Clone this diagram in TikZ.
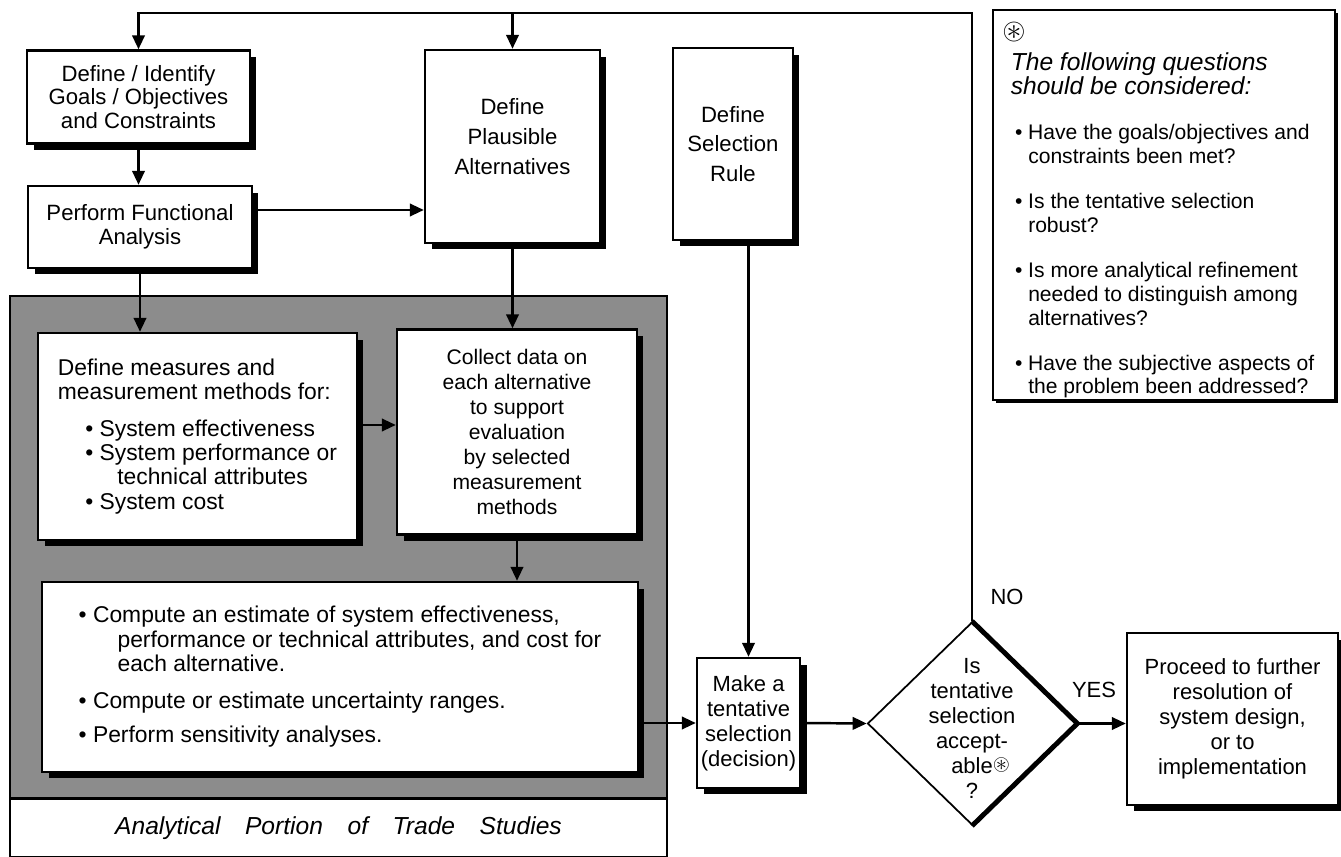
\documentclass[tikz,border=0pt]{standalone}
\usepackage{amssymb}
\usepackage{fontspec}
\setmainfont{Liberation Sans}
\usetikzlibrary{arrows.meta, positioning, shapes.geometric, shadows}
\tikzset{
    process box/.style={rectangle, draw=black, fill=white, line width=1.4pt, align=center, inner sep=2pt,
        font=\fontsize{12.6}{13.6}\selectfont,
        drop shadow={shadow xshift=1.3mm, shadow yshift=-1.3mm, fill=black, opacity=1}},
    tall text/.style={font=\fontsize{12.6}{17}\selectfont},
    wide text/.style={font=\fontsize{12.5}{14.2}\selectfont},
    list text/.style={font=\fontsize{13}{13.8}\selectfont},
    region box/.style={rectangle, draw=black, fill=black!45, line width=0.8pt, minimum width=13.14cm, minimum height=10.04cm},
    region label/.style={rectangle, draw=black, fill=white, line width=0.8pt, minimum width=13.14cm, minimum height=1.14cm,
        font=\fontsize{14}{16}\selectfont\itshape},
    note box/.style={rectangle, draw=black, fill=white, line width=1.1pt, minimum width=6.84cm, minimum height=7.8cm,
        drop shadow={shadow xshift=0.6mm, shadow yshift=-0.6mm, fill=black, opacity=1}},
    note text/.style={align=left, inner sep=0pt, anchor=north west, font=\fontsize{12}{13.6}\selectfont},
    decision/.style={diamond, draw=black, fill=white, line width=1pt, inner sep=0pt},
    answer label/.style={font=\fontsize{12.5}{14}\selectfont},
    flow/.style={-{Triangle[length=2.8mm, width=2.5mm]}, line width=1.4pt, black},
}
\newcommand{\notetitle}{\fontsize{14}{13.5}\selectfont\itshape}
\newcommand{\notebody}{\fontsize{12}{13.6}\selectfont\upshape}
\newcommand{\notemark}{\fontsize{17}{17}\selectfont$\circledast$}
\begin{document}
\begin{tikzpicture}[x=0.02cm, y=-0.02cm]
    \useasboundingbox (0,0) rectangle (1341,857);

    % Analytical portion
    \node[region box] (region) at (338.5,547) {};
    \node[region label, below=0pt of region] (regionlabel) {Analytical\quad Portion\quad of\quad Trade\quad Studies};

    % Nodes
    \node[process box, minimum width=4.46cm, minimum height=1.86cm] (goals) at (138.5,97)
        {Define / Identify\\Goals / Objectives\\and Constraints};
    \node[process box, minimum width=4.48cm, minimum height=1.64cm] (func) at (140,227)
        {Perform Functional\\Analysis};
    \node[process box, tall text, text depth=0.4cm, minimum width=3.5cm, minimum height=3.86cm] (alts) at (512.5,146.5)
        {Define\\Plausible\\Alternatives};
    \node[process box, tall text, minimum width=2.4cm, minimum height=3.84cm] (rule) at (733,144)
        {Define\\Selection\\Rule};
    \node[process box, list text, align=left, minimum width=6.38cm, minimum height=4.14cm] (measures) at (197.5,436.5)
        {Define measures and\\measurement methods for:\\[7pt]
        \hspace*{1.2em}\textbullet\ System effectiveness\\
        \hspace*{1.2em}\textbullet\ System performance or\\
        \hspace*{2.6em}technical attributes\\
        \hspace*{1.2em}\textbullet\ System cost};
    \node[process box, font=\fontsize{12}{14.2}\selectfont, minimum width=4.8cm, minimum height=4.1cm] (collect) at (517,432)
        {Collect data on\\each alternative\\to support\\evaluation\\by selected\\measurement\\methods};
    \node[process box, list text, align=left, minimum width=11.92cm, minimum height=3.8cm] (compute) at (340,677)
        {\textbullet\ Compute an estimate of system effectiveness,\\
        \hspace*{1.7em}performance or technical attributes, and cost for\\
        \hspace*{1.7em}each alternative.\\[7pt]
        \textbullet\ Compute or estimate uncertainty ranges.\\[6pt]
        \textbullet\ Perform sensitivity analyses.};
    \node[process box, wide text, minimum width=2.06cm, minimum height=2.6cm] (make) at (748.5,723)
        {Make a\\tentative\\selection\\(decision)};
    \node[decision, minimum width=4.18cm, minimum height=4.06cm] (accept) at (972,723.5) {};
    \node[align=center, wide text] (accepttext) at ([yshift=-0.1cm]accept.center)
        {Is\\tentative\\selection\\accept-\\able\rlap{\raisebox{0.3ex}{$\circledast$}}\\?};
    \node[process box, wide text, minimum width=4.22cm, minimum height=3.44cm] (proceed) at (1232.5,719)
        {Proceed to further\\resolution of\\system design,\\or to\\implementation};
    \node[note box] (notes) at (1164,205) {};
    \node[note text] (notetext) at (1002,22)
        {\notemark\\[4pt]
        \hspace*{0.4em}\notetitle The following questions\\
        \hspace*{0.4em}\notetitle should be considered:\\[12pt]
        \notebody\hspace*{0.6em}\textbullet\ Have the goals/objectives and\\
        \hspace*{0.6em}\phantom{\textbullet\ }constraints been met?\\[12pt]
        \hspace*{0.6em}\textbullet\ Is the tentative selection\\
        \hspace*{0.6em}\phantom{\textbullet\ }robust?\\[12pt]
        \hspace*{0.6em}\textbullet\ Is more analytical refinement\\
        \hspace*{0.6em}\phantom{\textbullet\ }needed to distinguish among\\
        \hspace*{0.6em}\phantom{\textbullet\ }alternatives?\\[12pt]
        \hspace*{0.6em}\textbullet\ Have the subjective aspects of\\
        \hspace*{0.6em}\phantom{\textbullet\ }the problem been addressed?};

    % Heavy edge of the decision
    \draw[line width=2.8pt] (accept.north) -- (accept.east) -- (accept.south);

    % Arrows
    \coordinate (loop) at (accept.north |- 0,13);
    \draw[flow] (accept.north) -- (loop) -| (goals.north);
    \draw[flow] (alts.north |- loop) -- (alts.north);
    \draw[flow] (goals.south) -- (goals.south |- func.north);
    \draw[flow] (func.east |- 0,210) -- (alts.west |- 0,210);
    \draw[flow] (func.south) -- (func.south |- measures.north);
    \draw[flow] (alts.south) -- (alts.south |- collect.north);
    \draw[flow] (measures.east |- 0,425) -- (collect.west |- 0,425);
    \draw[flow] (collect.south) -- (collect.south |- compute.north);
    \draw[flow] (compute.east |- make.west) -- (make.west);
    \draw[flow] (rule.south -| make.north) -- (make.north);
    \draw[flow] (make.east) -- (accept.west);
    \draw[flow] (accept.east) -- (proceed.west |- accept.east);

    % Answers
    \node[answer label] (no) at (1007,597) {NO};
    \node[answer label] (yes) at (1094,690) {YES};
\end{tikzpicture}
\end{document}
